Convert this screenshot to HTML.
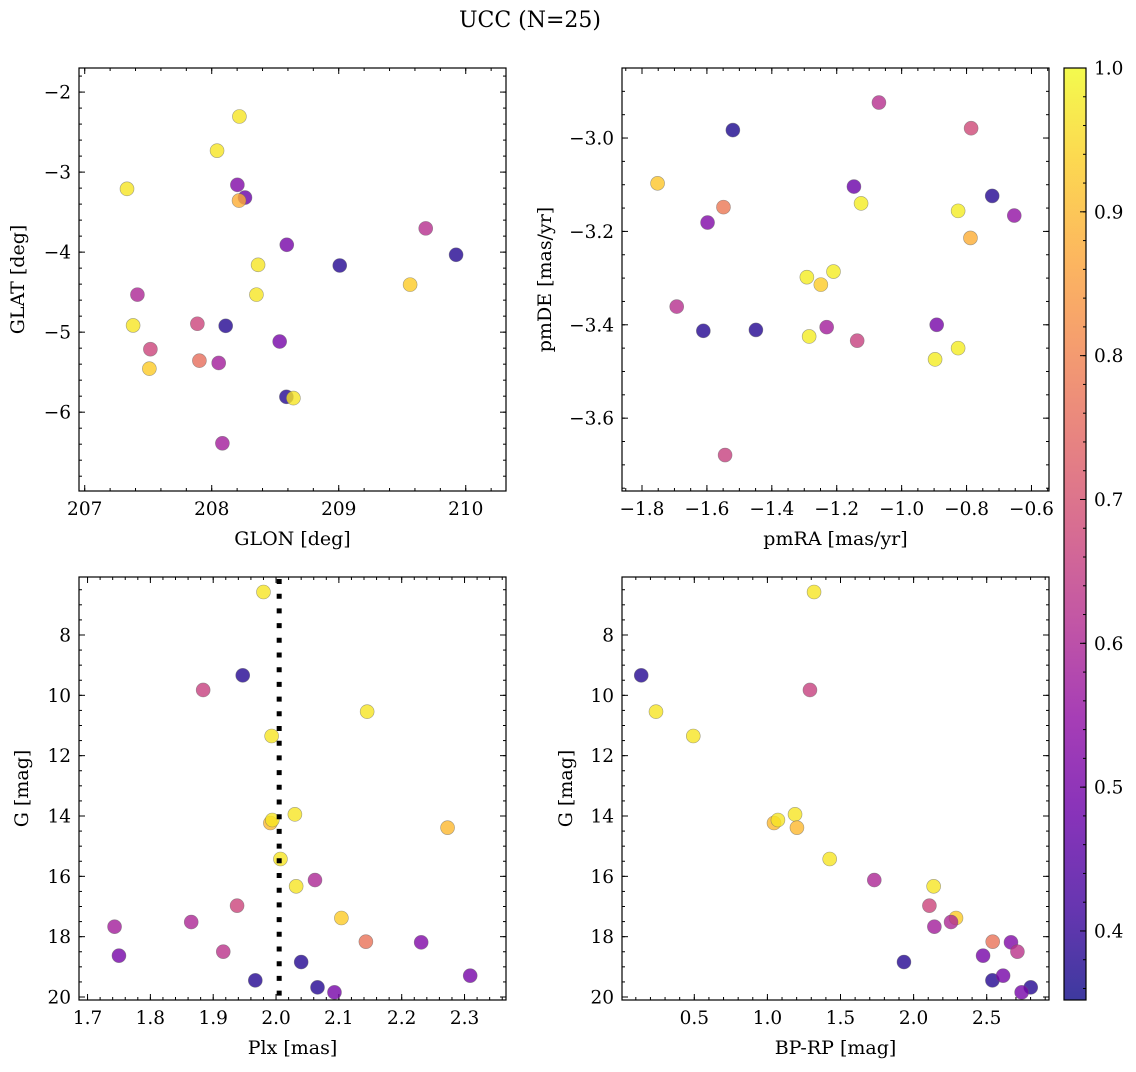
<!DOCTYPE html>
<html><head><meta charset="utf-8"><style>
html,body{margin:0;padding:0;background:#fff;}
svg text{font-family:"DejaVu Serif","Liberation Serif",serif;fill:#000;}
</style></head><body>
<svg id="fig" width="1136" height="1067" xmlns="http://www.w3.org/2000/svg">
<defs>
<linearGradient id="plasma" x1="0" y1="1" x2="0" y2="0">
<stop offset="0" stop-color="#0d0887"/><stop offset="0.1" stop-color="#41049d"/><stop offset="0.2" stop-color="#6a00a8"/><stop offset="0.3" stop-color="#8f0da4"/><stop offset="0.4" stop-color="#b12a90"/><stop offset="0.5" stop-color="#cc4778"/><stop offset="0.6" stop-color="#e16462"/><stop offset="0.7" stop-color="#f2844b"/><stop offset="0.8" stop-color="#fca636"/><stop offset="0.9" stop-color="#fcce25"/><stop offset="1" stop-color="#f0f921"/>
</linearGradient>
</defs>
<text x="530" y="27" font-size="22" text-anchor="middle">UCC (N=25)</text>
</svg>
<script>
// Panel 1: GLON / GLAT
const glon = [208.218,208.042,207.333,208.202,208.262,208.215,209.685,208.591,209.008,209.924,208.365,208.352,209.562,207.415,207.381,207.887,208.110,207.517,207.903,208.055,208.535,207.509,208.588,208.643,208.084];
const glat = [-2.305,-2.732,-3.209,-3.159,-3.318,-3.356,-3.703,-3.908,-4.167,-4.033,-4.159,-4.531,-4.406,-4.531,-4.916,-4.895,-4.921,-5.213,-5.356,-5.385,-5.117,-5.456,-5.808,-5.824,-6.389];
const prob1 = [0.97,0.97,0.97,0.52,0.48,0.88,0.62,0.5,0.38,0.38,0.97,0.97,0.93,0.6,0.97,0.67,0.38,0.67,0.76,0.58,0.5,0.93,0.38,0.97,0.58];
// Panel 2: pmRA / pmDE
const pmra = [-1.070,-0.786,-1.520,-1.752,-1.549,-1.598,-1.147,-1.125,-0.826,-0.721,-0.653,-0.788,-1.292,-1.210,-1.249,-1.693,-1.611,-1.449,-1.285,-1.231,-1.137,-0.892,-0.826,-0.897,-1.544];
const pmde = [-2.924,-2.979,-2.983,-3.097,-3.148,-3.181,-3.104,-3.140,-3.156,-3.124,-3.166,-3.214,-3.298,-3.286,-3.314,-3.361,-3.413,-3.411,-3.425,-3.405,-3.434,-3.400,-3.450,-3.474,-3.679];
const prob2 = [0.62,0.68,0.37,0.92,0.78,0.52,0.48,0.98,0.98,0.38,0.55,0.88,0.98,0.98,0.93,0.62,0.38,0.38,0.98,0.58,0.66,0.5,0.98,0.98,0.66];
// Panels 3 & 4: Plx, BP-RP, G
const plx = [1.980,1.947,1.884,2.145,1.993,2.030,1.991,1.994,2.273,2.007,2.062,2.032,1.938,2.104,1.743,1.865,2.143,2.231,1.750,1.916,2.040,1.967,2.309,2.066,2.093];
const bprp = [1.319,0.137,1.291,0.238,0.493,1.189,1.045,1.072,1.202,1.426,1.731,2.137,2.108,2.290,2.142,2.256,2.541,2.666,2.475,2.710,1.934,2.539,2.612,2.801,2.739];
const gmag = [6.575,9.337,9.823,10.541,11.348,13.945,14.232,14.133,14.387,15.425,16.122,16.331,16.972,17.381,17.669,17.514,18.166,18.188,18.630,18.497,18.840,19.448,19.293,19.680,19.845];
const prob34 = [0.97,0.38,0.66,0.97,0.97,0.97,0.9,0.97,0.9,0.97,0.6,0.97,0.67,0.93,0.58,0.6,0.77,0.52,0.5,0.63,0.38,0.38,0.5,0.38,0.5];
const plxRef = [2.005];
const cbarTicks = [0.4,0.5,0.6,0.7,0.8,0.9,1.0];

const NS='http://www.w3.org/2000/svg';
const fig=document.getElementById('fig');
function mk(tag,attrs,parent){const e=document.createElementNS(NS,tag);for(const k in attrs)e.setAttribute(k,attrs[k]);(parent||fig).appendChild(e);return e;}
const stops=['#0d0887','#41049d','#6a00a8','#8f0da4','#b12a90','#cc4778','#e16462','#f2844b','#fca636','#fcce25','#f0f921'];
const CMIN=0.352,CMAX=1.0;
const TF=18.5, LF=19;
function hex(h){return [parseInt(h.substr(1,2),16),parseInt(h.substr(3,2),16),parseInt(h.substr(5,2),16)];}
function cmap(v){let t=(v-CMIN)/(CMAX-CMIN);t=Math.max(0,Math.min(1,t));const p=t*10,i=Math.min(9,Math.floor(p)),f=p-i;const a=hex(stops[i]),b=hex(stops[i+1]);return 'rgb('+a.map((x,k)=>Math.round(x+(b[k]-x)*f)).join(',')+')';}
function fmt(v,d){const s=Math.abs(v).toFixed(d);return (v<-1e-9?'\u2212':'')+s;}

function panel(name,box,xr,yr,invY,xMaj,xMin,yMaj,yMin,xd,yd,xs,ys,cs,xlab,ylab,ylabX){
  const [L,T,W,H]=box;
  const g=mk('g',{});
  
  
  const X=v=>L+(v-xr[0])/(xr[1]-xr[0])*W;
  const Y=v=>invY?T+(v-yr[0])/(yr[1]-yr[0])*H:T+H-(v-yr[0])/(yr[1]-yr[0])*H;
  const ticks=mk('g',{stroke:'#000','stroke-width':1},g);
  
  
  function xt(step,len,label){
    const s=Math.ceil(xr[0]/step-1e-6);
    for(let k=s;k*step<=xr[1]+1e-9;k++){const v=k*step,x=X(v);
      mk('line',{x1:x,x2:x,y1:T+H,y2:T+H-len},ticks);mk('line',{x1:x,x2:x,y1:T,y2:T+len},ticks);
      if(label){const t=mk('text',{x:x,y:T+H+24,'font-size':TF,'text-anchor':'middle'},g);t.textContent=fmt(v,xd);
        
        }}
  }
  function yt(step,len,label){
    const lo=Math.min(yr[0],yr[1]),hi=Math.max(yr[0],yr[1]);
    const s=Math.ceil(lo/step-1e-6);
    for(let k=s;k*step<=hi+1e-9;k++){const v=k*step,y=Y(v);
      mk('line',{x1:L,x2:L+len,y1:y,y2:y},ticks);mk('line',{x1:L+W,x2:L+W-len,y1:y,y2:y},ticks);
      if(label){const t=mk('text',{x:L-8,y:y+6.5,'font-size':TF,'text-anchor':'end'},g);t.textContent=fmt(v,yd);
        
        }}
  }
  xt(xMin,3,false);xt(xMaj,6,true);yt(yMin,3,false);yt(yMaj,6,true);
  const pts=mk('g',{},g);
  
  
  for(let i=0;i<xs.length;i++){
    const c=mk('circle',{cx:X(xs[i]),cy:Y(ys[i]),r:7,fill:cmap(cs[i]),'fill-opacity':0.8,stroke:'#666','stroke-opacity':0.6,'stroke-width':0.6},pts);
    
    
  }
  const fr=mk('rect',{x:L,y:T,width:W,height:H,fill:'none',stroke:'#000','stroke-width':1.2},g);
  
  
  const xl=mk('text',{x:L+W/2,y:T+H+54,'font-size':LF,'text-anchor':'middle'},g);xl.textContent=xlab;
  
  
  const yl=mk('text',{x:ylabX,y:T+H/2,'font-size':LF,'text-anchor':'middle',transform:'rotate(-90 '+ylabX+' '+(T+H/2)+')'},g);yl.textContent=ylab;
  
  
  return {X,Y,g};
}

panel('position-panel',[79,68,427,423],[206.955,210.317],[-6.985,-1.699],false,1,0.2,1,0.2,0,0,glon,glat,prob1,'GLON [deg]','GLAT [deg]',24);
panel('proper-motion-panel',[622,68,427,423],[-1.8616,-0.546],[-3.756,-2.85],false,0.2,0.05,0.2,0.05,1,1,pmra,pmde,prob2,'pmRA [mas/yr]','pmDE [mas/yr]',551);
const p3=panel('parallax-panel',[79,577,427,423],[1.6864,2.366],[6.078,20.099],true,0.1,0.02,2,0.5,1,0,plx,gmag,prob34,'Plx [mas]','G [mag]',28);
panel('cmd-panel',[622,577,427,423],[0.0055,2.926],[6.078,20.099],true,0.5,0.1,2,0.5,1,0,bprp,gmag,prob34,'BP-RP [mag]','G [mag]',572);

const ref=mk('line',{x1:p3.X(plxRef[0]),x2:p3.X(plxRef[0]),y1:579,y2:1000,stroke:'#000','stroke-width':5,'stroke-dasharray':'5 9.7'});



// colorbar
const cb=mk('g',{});


const CL=1064,CT=68,CW=22,CH=932;
mk('rect',{x:CL,y:CT,width:CW,height:CH,fill:'url(#plasma)','fill-opacity':0.8},cb);
mk('rect',{x:CL,y:CT,width:CW,height:CH,fill:'none',stroke:'#000','stroke-width':1.2},cb);
const CY=v=>CT+CH-(v-CMIN)/(CMAX-CMIN)*CH;
for(let k=18;k<=50;k++){const v=k*0.02;if(v<CMIN-1e-9||v>CMAX+1e-9)continue;const y=CY(v);mk('line',{x1:CL+CW,x2:CL+CW-3,y1:y,y2:y,stroke:'#000'},cb);}
for(const v of cbarTicks){const y=CY(v);mk('line',{x1:CL+CW,x2:CL+CW-6,y1:y,y2:y,stroke:'#000'},cb);
  const t=mk('text',{x:CL+CW+8,y:y+6.5,'font-size':TF},cb);t.textContent=v.toFixed(1);
  
  }
</script>
</body></html>
